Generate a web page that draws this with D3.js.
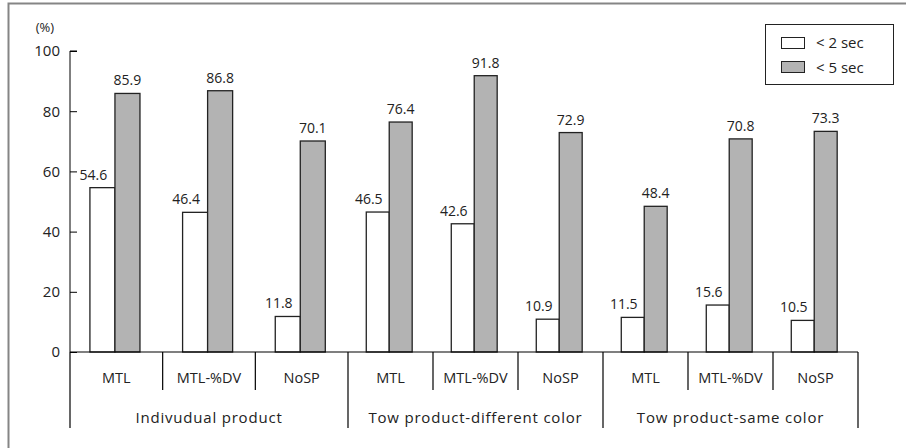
<!DOCTYPE html>
<html>
<head>
<meta charset="utf-8">
<script src="https://cdn.jsdelivr.net/npm/d3@7"></script>
<style>
  html, body { margin: 0; padding: 0; background: #fff; }
  svg { display: block; }
  text { font-family: "Open Sans", "Noto Sans", sans-serif; fill: #222; }
</style>
</head>
<body>
<svg id="chart" width="906" height="448"></svg>
<script>
// Response within time limit, per display condition (%)
const groups = ["Indivudual product", "Tow product-different color", "Tow product-same color"];
const subcats = ["MTL", "MTL-%DV", "NoSP"];
const under2 = [54.6, 46.4, 11.8, 46.5, 42.6, 10.9, 11.5, 15.6, 10.5];
const under5 = [85.9, 86.8, 70.1, 76.4, 91.8, 72.9, 48.4, 70.8, 73.3];
const yTicks = [0, 20, 40, 60, 80, 100];
const seriesNames = ["< 2 sec", "< 5 sec"];
const seriesColors = ["#ffffff", "#b3b3b3"];

const svg = d3.select("#chart");

// outer frame (open on right/bottom)
svg.append("path")
  .attr("d", "M8.5,448 V3.5 H906")
  .attr("fill", "none").attr("stroke", "#858585").attr("stroke-width", 2);

const y = d3.scaleLinear().domain([0, 100]).range([352, 51]);
// category-index scale: first group occupies a slightly wider span
const xIdx = d3.scaleLinear().domain([0, 3, 9]).range([70, 348, 858]);

const cats = d3.range(9).map(i => ({
  i,
  sub: subcats[i % 3],
  x0: xIdx(i),
  w: xIdx(i + 1) - xIdx(i),
  v2: under2[i],
  v5: under5[i]
}));

// y axis
const yAxis = d3.axisRight(y).tickValues(yTicks).tickSize(7).tickFormat(d3.format("d"));
const gy = svg.append("g").attr("transform", "translate(70,0)").call(yAxis);
gy.select(".domain").attr("stroke", "#000").attr("d", "M7,51H0V352");
gy.selectAll(".tick line").attr("stroke", "#000");
gy.selectAll(".tick text")
  .attr("x", -10).attr("text-anchor", "end")
  .style("font-size", "15px").style("font-family", "'Open Sans', 'Noto Sans', sans-serif").attr("fill", "#222");

svg.append("text").attr("x", 45).attr("y", 32).attr("text-anchor", "middle")
  .style("font-size", "13px").text("(%)");

// bars
const bw = c => c.w * 0.27;
const bx = c => c.x0 + c.w * 0.215;

const gBars = svg.append("g");
gBars.selectAll("rect.b2").data(cats).join("rect")
  .attr("x", c => bx(c)).attr("width", c => bw(c))
  .attr("y", c => y(c.v2)).attr("height", c => y(0) - y(c.v2))
  .attr("fill", seriesColors[0]).attr("stroke", "#222").attr("stroke-width", 1.3);
gBars.selectAll("rect.b5").data(cats).join("rect")
  .attr("x", c => bx(c) + bw(c)).attr("width", c => bw(c))
  .attr("y", c => y(c.v5)).attr("height", c => y(0) - y(c.v5))
  .attr("fill", seriesColors[1]).attr("stroke", "#222").attr("stroke-width", 1.3);

// value labels
svg.append("g").selectAll("text").data(cats).join("text")
  .attr("x", c => bx(c) + bw(c) / 2 - 9).attr("y", c => y(c.v2) - 8)
  .attr("text-anchor", "middle").style("font-size", "14px")
  .text(c => c.v2.toFixed(1));
svg.append("g").selectAll("text").data(cats).join("text")
  .attr("x", c => bx(c) + bw(c) * 1.5).attr("y", c => y(c.v5) - 8)
  .attr("text-anchor", "middle").style("font-size", "14px")
  .text(c => c.v5.toFixed(1));

// category axis with two-level dividers
const ga = svg.append("g").attr("stroke", "#000").attr("stroke-width", 1.2);
ga.append("line").attr("x1", 70).attr("x2", xIdx(9)).attr("y1", y(0)).attr("y2", y(0));
d3.range(10).forEach(i => {
  const outer = i % 3 === 0;
  ga.append("line").attr("x1", xIdx(i)).attr("x2", xIdx(i))
    .attr("y1", y(0)).attr("y2", outer ? 428 : 390);
});

svg.append("g").selectAll("text").data(cats).join("text")
  .attr("x", c => c.x0 + c.w / 2).attr("y", 383)
  .attr("text-anchor", "middle").style("font-size", "14.5px")
  .text(c => c.sub);

svg.append("g").selectAll("text").data(groups).join("text")
  .attr("x", (g, k) => (xIdx(k * 3) + xIdx(k * 3 + 3)) / 2).attr("y", 423)
  .attr("text-anchor", "middle").style("font-size", "15px").style("letter-spacing", "0.8px")
  .text(g => g);

// legend
const lg = svg.append("g");
lg.append("rect").attr("x", 765.5).attr("y", 24.5).attr("width", 128).attr("height", 60)
  .attr("fill", "#fff").attr("stroke", "#222").attr("stroke-width", 1);
seriesNames.forEach((name, k) => {
  lg.append("rect").attr("x", 781.5).attr("y", 37.5 + k * 24).attr("width", 23).attr("height", 11)
    .attr("fill", seriesColors[k]).attr("stroke", "#222").attr("stroke-width", 1);
  lg.append("text").attr("x", 816).attr("y", 47.5 + k * 25).style("font-size", "15px").text(name);
});
</script>
</body>
</html>
